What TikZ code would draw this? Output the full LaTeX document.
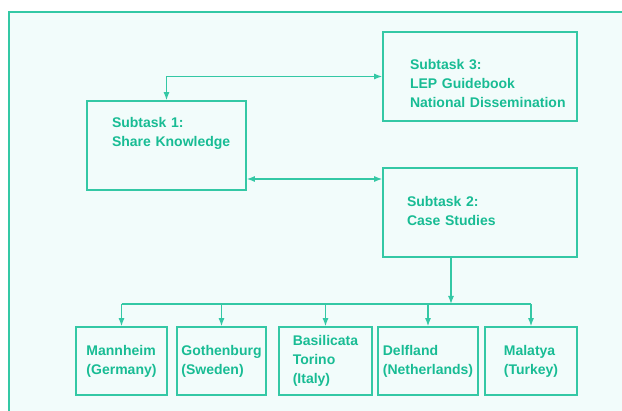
\documentclass[tikz,border=0pt]{standalone}
\usepackage{fontspec}
\setmainfont{Liberation Sans}
\usetikzlibrary{arrows.meta}
\definecolor{tealline}{RGB}{52,200,165}
\definecolor{tealtext}{RGB}{24,188,148}
\definecolor{paper}{RGB}{242,252,251}

\begin{document}
\begin{tikzpicture}[x=1pt,y=-1pt,>={Latex[length=8pt,width=6pt]}, every node/.style={font=\bfseries\fontsize{14}{19}\selectfont}]
	\tikzstyle{task}=[draw=tealline,line width=1.6pt,text=tealtext,align=left,inner xsep=0pt,minimum width=194pt,minimum height=89pt]
	\tikzstyle{case}=[draw=tealline,line width=1.6pt,text=tealtext,align=left,inner xsep=0pt,minimum height=68pt]
	\tikzstyle{link}=[draw=tealline,line width=1.3pt]
	
	\useasboundingbox (0,0) rectangle (622,411);
	\fill[paper] (9,12) rectangle (622,411);
	\draw[tealline,line width=2.5pt] (9,411) -- (9,12) -- (622,12);
	
	\node[task,text width=109pt,minimum width=159pt,text depth=47pt](st1) at (166.5,145.5){Subtask 1:\\\mbox{Share Knowledge}};
	\node[task,text width=140pt,text height=25pt](st3) at (480,76.5){Subtask 3:\\LEP Guidebook\\\mbox{National Dissemination}};
	\node[task,text width=146pt,text depth=23pt](st2) at (480,212.5){Subtask 2:\\Case Studies};
	
	\node[case,minimum width=91pt](cs1) at (121.5,361){Mannheim\\(Germany)};
	\node[case,minimum width=89pt](cs2) at (221.5,361){Gothenburg\\(Sweden)};
	\node[case,minimum width=93pt](cs3) at (325.5,361){Basilicata\\Torino\\(Italy)};
	\node[case,minimum width=100pt](cs4) at (428,361){Delfland\\(Netherlands)};
	\node[case,minimum width=92pt](cs5) at (531,361){Malatya\\(Turkey)};
	
	\coordinate (mid) at (300,179);
	\coordinate (bus) at (451,304);
	
	\draw[link,<->] (st1.north) |- (st3.west);
	\draw[link,<->] (st1.east |- mid) -- (st2.west |- mid);
	\draw[link,->] (st2.south -| bus) -- (bus);
	\draw[link] (cs1.north |- bus) -- (cs5.north |- bus);
	\foreach \c in {cs1,cs2,cs3,cs4,cs5}
		\draw[link,->] (\c.north |- bus) -- (\c.north);
\end{tikzpicture}
\end{document}
